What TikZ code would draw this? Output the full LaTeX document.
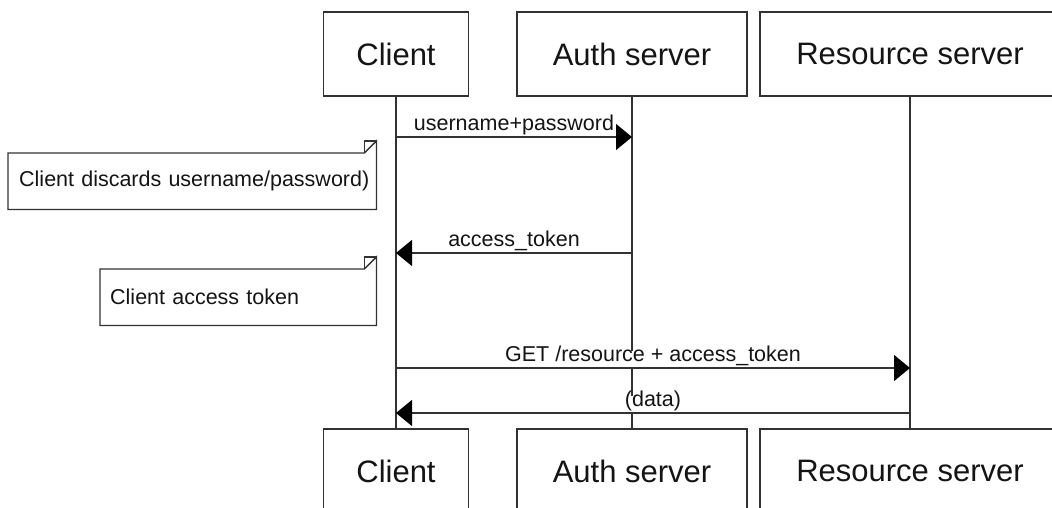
\documentclass[tikz,border=0pt]{standalone}
\usepackage{fontspec}
\setmainfont{Liberation Sans}
\usetikzlibrary{arrows.meta}
\definecolor{ln}{RGB}{50,50,50}
\definecolor{tx}{RGB}{20,20,20}
\begin{document}
\begin{tikzpicture}[x=1pt,y=-1pt,
  actor/.style={draw=ln, line width=1.3pt, fill=white, minimum height=84pt, inner sep=0pt,
    text=tx, font=\fontsize{31}{36}\selectfont},
  life/.style={draw=ln, line width=1.3pt},
  msg/.style={draw=ln, line width=1.3pt, -{Triangle[length=16pt,width=26pt,color=black]}},
  lbl/.style={above, fill=white, inner xsep=1pt, inner ysep=3.5pt, text=tx,
    font=\fontsize{21.5}{24}\selectfont, text height=0.75em, text depth=0.22em},
  notebox/.style={anchor=north west, minimum height=56pt, align=left, text=tx,
    font=\fontsize{21.5}{24}\selectfont},
  noteline/.style={draw=ln, line width=1.3pt, line join=miter}]
\useasboundingbox (0,0) rectangle (1052,508);
\clip (0,0) rectangle (1052,508);

% actors
\node[actor, minimum width=145pt] (c1) at (396,54) {Client};
\node[actor, minimum width=230pt] (a1) at (632,54) {Auth server};
\node[actor, minimum width=300pt] (r1) at (910,54) {Resource server};
\node[actor, minimum width=145pt] (c2) at (396,471) {Client};
\node[actor, minimum width=230pt] (a2) at (632,471) {Auth server};
\node[actor, minimum width=300pt] (r2) at (910,471) {Resource server};

% lifelines
\draw[life] (c1.south) -- (c2.north);
\draw[life] (a1.south) -- (a2.north);
\draw[life] (r1.south) -- (r2.north);

% message end points
\coordinate (m1a) at (396,137);
\coordinate (m1b) at (632,137);
\coordinate (m2a) at (632,253);
\coordinate (m2b) at (396,253);
\coordinate (m3a) at (396,368);
\coordinate (m3b) at (910,368);
\coordinate (m4a) at (910,413);
\coordinate (m4b) at (396,413);

% messages
\draw[msg] (m1a) -- node[lbl] {username+password} (m1b);
\draw[msg] (m2a) -- node[lbl] {access\_token} (m2b);
\draw[msg] (m3a) -- node[lbl] {GET /resource + access\_token} (m3b);
\draw[msg] (m4a) -- node[lbl] {(data)} (m4b);

% notes
\node[notebox, text width=346pt, inner xsep=11pt, inner ysep=0pt, minimum width=368pt] (n1) at (8,153)
  {\mbox{Client discards username/password)}};
\draw[noteline] (n1.north west) -- ([xshift=-12pt]n1.north east) -- ([yshift=12pt]n1.north east)
  -- (n1.south east) -- (n1.south west) -- cycle;
\draw[noteline] ([xshift=-12pt]n1.north east) -- ([xshift=-12pt,yshift=12pt]n1.north east) -- ([yshift=12pt]n1.north east);

\node[notebox, text width=256pt, inner xsep=10pt, inner ysep=0pt, minimum width=276pt] (n2) at (100,269)
  {\mbox{Client access token}};
\draw[noteline] (n2.north west) -- ([xshift=-12pt]n2.north east) -- ([yshift=12pt]n2.north east)
  -- (n2.south east) -- (n2.south west) -- cycle;
\draw[noteline] ([xshift=-12pt]n2.north east) -- ([xshift=-12pt,yshift=12pt]n2.north east) -- ([yshift=12pt]n2.north east);
\end{tikzpicture}
\end{document}
